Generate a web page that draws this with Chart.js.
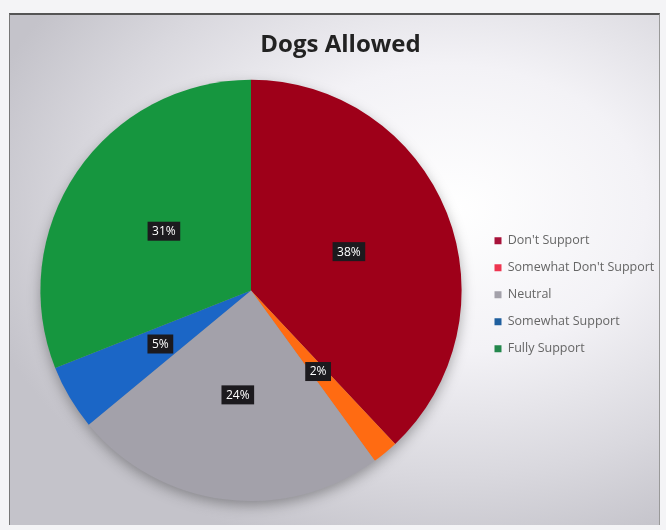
<!DOCTYPE html>
<html>
<head>
<meta charset="utf-8">
<script src="https://cdn.jsdelivr.net/npm/chart.js@4/dist/chart.umd.min.js"></script>
<style>
  html, body { margin: 0; padding: 0; background: #f4f4f6; }
  .frame {
    position: absolute; left: 9px; top: 13px; width: 651px; height: 512px;
    border-top: 2px solid #555; border-left: 1px solid #777; border-right: 1px solid #999;
    box-sizing: border-box;
    background: radial-gradient(ellipse 75% 70% at 68% 38%, #ffffff 0%, #f3f2f6 40%, #d9d8de 75%, #c4c3ca 100%);
  }
  canvas { position: absolute; left: 0; top: 0; }
</style>
</head>
<body>
<div class="frame">
  <canvas id="chart" width="649" height="510"></canvas>
</div>
<script>
const labels = ["Don't Support", "Somewhat Don't Support", "Neutral", "Somewhat Support", "Fully Support"];
const values = [38, 2, 24, 5, 31];
const sliceColors = ['#9e0019', '#ff6b12', '#a3a1aa', '#1b66c6', '#16963f'];
const legendColors = ['#a8123a', '#ee3550', '#a3a1aa', '#1f5f9e', '#23874c'];

// black boxed percentage labels in the middle of each slice
const sliceLabels = {
    id: 'sliceLabels',
    afterDatasetsDraw(chart) {
        const ctx = chart.ctx;
        const total = values.reduce((a, b) => a + b, 0);
        chart.getDatasetMeta(0).data.forEach((arc, i) => {
            const pos = arc.tooltipPosition();
            const text = Math.round(values[i] / total * 100) + '%';
            ctx.save();
            ctx.font = '12px "Open Sans"';
            const w = ctx.measureText(text).width + 9;
            const h = 19;
            ctx.fillStyle = '#1c1a1e';
            ctx.fillRect(pos.x - w / 2, pos.y - h / 2, w, h);
            ctx.fillStyle = '#ffffff';
            ctx.textAlign = 'center';
            ctx.textBaseline = 'middle';
            ctx.fillText(text, pos.x, pos.y + 0.5);
            ctx.restore();
        });
    }
};

// soft shadow under the pie
const pieShadow = {
    id: 'pieShadow',
    beforeDatasetsDraw(chart) {
        const arc = chart.getDatasetMeta(0).data[0];
        if (!arc) return;
        const ctx = chart.ctx;
        ctx.save();
        ctx.shadowColor = 'rgba(0,0,0,0.35)';
        ctx.shadowBlur = 14;
        ctx.shadowOffsetY = 5;
        ctx.fillStyle = '#999';
        ctx.beginPath();
        ctx.arc(arc.x, arc.y, arc.outerRadius - 1, 0, Math.PI * 2);
        ctx.fill();
        ctx.restore();
    }
};

new Chart(document.getElementById('chart'), {
    type: 'pie',
    data: {
        labels,
        datasets: [{
            data: values,
            backgroundColor: sliceColors,
            borderColor: sliceColors,
            borderWidth: 0
        }]
    },
    options: {
        responsive: false,
        animation: false,
        layout: { padding: { left: 12, right: 0, top: 0, bottom: 24 } },
        plugins: {
            tooltip: { enabled: false },
            title: {
                display: true,
                text: 'Dogs Allowed',
                color: '#222',
                font: { family: '"Open Sans"', size: 24, weight: 'bold' },
                padding: { top: 16, bottom: 20 }
            },
            legend: {
                position: 'right',
                align: 'start',
                maxWidth: 179,
                title: { display: true, text: ' ', font: { size: 5 }, padding: { top: 196, bottom: 3 } },
                labels: {
                    boxWidth: 7,
                    boxHeight: 7,
                    padding: 14.5,
                    color: '#2a2a2a',
                    font: { family: '"Open Sans"', size: 12.5 },
                    generateLabels(chart) {
                        return labels.map((text, i) => ({
                            text,
                            fillStyle: legendColors[i],
                            strokeStyle: legendColors[i],
                            lineWidth: 0,
                            hidden: false,
                            index: i
                        }));
                    }
                }
            }
        }
    },
    plugins: [pieShadow, sliceLabels]
});
</script>
</body>
</html>
